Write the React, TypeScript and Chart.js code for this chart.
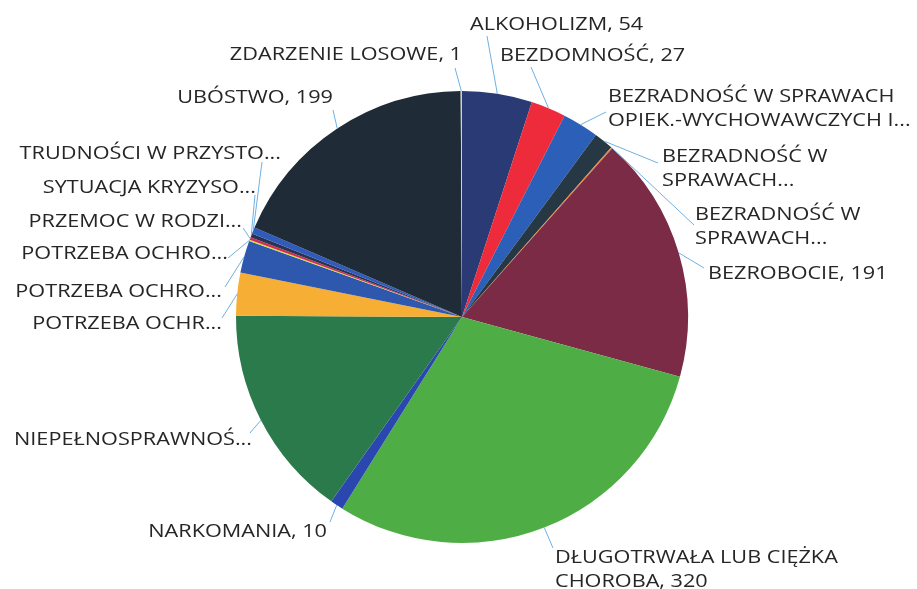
import React, { useEffect, useRef } from "react";
import { Chart, registerables } from "chart.js";

Chart.register(...registerables);

const categories: string[] = [
  "ALKOHOLIZM",
  "BEZDOMNOŚĆ",
  "BEZRADNOŚĆ W SPRAWACH OPIEK.-WYCHOWAWCZYCH I PROWADZENIA GOSPODARSTWA DOMOWEGO",
  "BEZRADNOŚĆ W SPRAWACH OPIEK.-WYCHOWAWCZYCH - RODZINA NIEPEŁNA",
  "BEZRADNOŚĆ W SPRAWACH OPIEK.-WYCHOWAWCZYCH - RODZINA WIELODZIETNA",
  "BEZROBOCIE",
  "DŁUGOTRWAŁA LUB CIĘŻKA CHOROBA",
  "NARKOMANIA",
  "NIEPEŁNOSPRAWNOŚĆ",
  "POTRZEBA OCHRONY MACIERZYŃSTWA",
  "POTRZEBA OCHRONY MACIERZYŃSTWA - WIELODZIETNOŚĆ",
  "POTRZEBA OCHRONY OFIAR HANDLU LUDŹMI",
  "PRZEMOC W RODZINIE",
  "SYTUACJA KRYZYSOWA",
  "TRUDNOŚCI W PRZYSTOSOWANIU DO ŻYCIA PO ZWOLNIENIU Z ZAKŁADU KARNEGO",
  "UBÓSTWO",
  "ZDARZENIE LOSOWE",
];

const values: number[] = [54, 27, 28, 15, 1, 191, 320, 10, 165, 33, 25, 1, 2, 3, 5, 199, 1];

const displayLabels: string[][] = [
  ["ALKOHOLIZM, 54"],
  ["BEZDOMNOŚĆ, 27"],
  ["BEZRADNOŚĆ W SPRAWACH", "OPIEK.-WYCHOWAWCZYCH I..."],
  ["BEZRADNOŚĆ W", "SPRAWACH..."],
  ["BEZRADNOŚĆ W", "SPRAWACH..."],
  ["BEZROBOCIE, 191"],
  ["DŁUGOTRWAŁA LUB CIĘŻKA", "CHOROBA, 320"],
  ["NARKOMANIA, 10"],
  ["NIEPEŁNOSPRAWNOŚ..."],
  ["POTRZEBA OCHR..."],
  ["POTRZEBA OCHRO..."],
  ["POTRZEBA OCHRO..."],
  ["PRZEMOC W RODZI..."],
  ["SYTUACJA KRYZYSO..."],
  ["TRUDNOŚCI W PRZYSTO..."],
  ["UBÓSTWO, 199"],
  ["ZDARZENIE LOSOWE, 1"],
];

const colors: string[] = [
  "#2a3a74",
  "#ee2b3a",
  "#2b5fb8",
  "#253844",
  "#e8843c",
  "#7b2b45",
  "#4fad45",
  "#2a47b0",
  "#2b7a4b",
  "#f6ae35",
  "#2d58ae",
  "#c9e23e",
  "#d42a5a",
  "#2a3350",
  "#2f5bbd",
  "#1f2b37",
  "#d8d0c0",
];

// label placement: text anchor (x, first-line center y, align) and leader line end point
const labelLayout: { x: number; y: number; align: CanvasTextAlign; lx: number; ly: number }[] = [
  { x: 470, y: 25, align: "left", lx: 487, ly: 36 },
  { x: 500, y: 56, align: "left", lx: 531, ly: 67 },
  { x: 608, y: 97, align: "left", lx: 606, ly: 112 },
  { x: 662, y: 157, align: "left", lx: 658, ly: 163 },
  { x: 695, y: 215, align: "left", lx: 694, ly: 225 },
  { x: 708, y: 274, align: "left", lx: 704, ly: 268 },
  { x: 555, y: 558, align: "left", lx: 553, ly: 548 },
  { x: 327, y: 532, align: "right", lx: 330, ly: 522 },
  { x: 252, y: 440, align: "right", lx: 250, ly: 433 },
  { x: 222, y: 324, align: "right", lx: 222, ly: 318 },
  { x: 222, y: 292, align: "right", lx: 225, ly: 287 },
  { x: 228, y: 254, align: "right", lx: 228, ly: 258 },
  { x: 242, y: 222, align: "right", lx: 243, ly: 228 },
  { x: 256, y: 188, align: "right", lx: 255, ly: 195 },
  { x: 281, y: 154, align: "right", lx: 262, ly: 162 },
  { x: 333, y: 98, align: "right", lx: 333, ly: 110 },
  { x: 462, y: 55, align: "right", lx: 455, ly: 68 },
];

const FONT = "19px 'Open Sans', sans-serif";
const STRETCH = 1.14;
const LINE_GAP = 24;

const labelPlugin = {
  id: "outsideLabels",
  afterDraw(chart: any) {
    const ctx: CanvasRenderingContext2D = chart.ctx;
    const meta = chart.getDatasetMeta(0);
    ctx.save();
    meta.data.forEach((arc: any, i: number) => {
      const p = arc.getProps(["x", "y", "startAngle", "endAngle", "outerRadius"], true);
      const mid = (p.startAngle + p.endAngle) / 2;
      const sx = p.x + Math.cos(mid) * p.outerRadius;
      const sy = p.y + Math.sin(mid) * p.outerRadius;
      const L = labelLayout[i];
      ctx.strokeStyle = "#6fb0e2";
      ctx.lineWidth = 1;
      ctx.beginPath();
      ctx.moveTo(sx, sy);
      ctx.lineTo(L.lx, L.ly);
      ctx.stroke();
      ctx.fillStyle = "#262626";
      ctx.font = FONT;
      ctx.textAlign = L.align;
      ctx.textBaseline = "middle";
      displayLabels[i].forEach((line, j) => {
        ctx.save();
        ctx.translate(L.x, L.y + j * LINE_GAP);
        ctx.scale(STRETCH, 1);
        ctx.fillText(line, 0, 0);
        ctx.restore();
      });
    });
    ctx.restore();
  },
};

export default function App() {
  const ref = useRef<HTMLCanvasElement | null>(null);
  useEffect(() => {
    if (!ref.current) return;
    const chart = new Chart(ref.current, {
      type: "pie",
      data: {
        labels: categories,
        datasets: [
          {
            data: values,
            backgroundColor: colors,
            borderWidth: 0,
          },
        ],
      },
      options: {
        responsive: false,
        animation: false,
        layout: { padding: { left: 236, right: 229, top: 91, bottom: 46 } },
        plugins: {
          legend: { display: false },
          tooltip: { enabled: false },
        },
      },
      plugins: [labelPlugin],
    });
    return () => chart.destroy();
  }, []);
  return (
    <div style={{ position: "absolute", left: 0, top: 0, width: 917, height: 589, background: "#fff" }}>
      <canvas ref={ref} width={917} height={589} />
    </div>
  );
}
